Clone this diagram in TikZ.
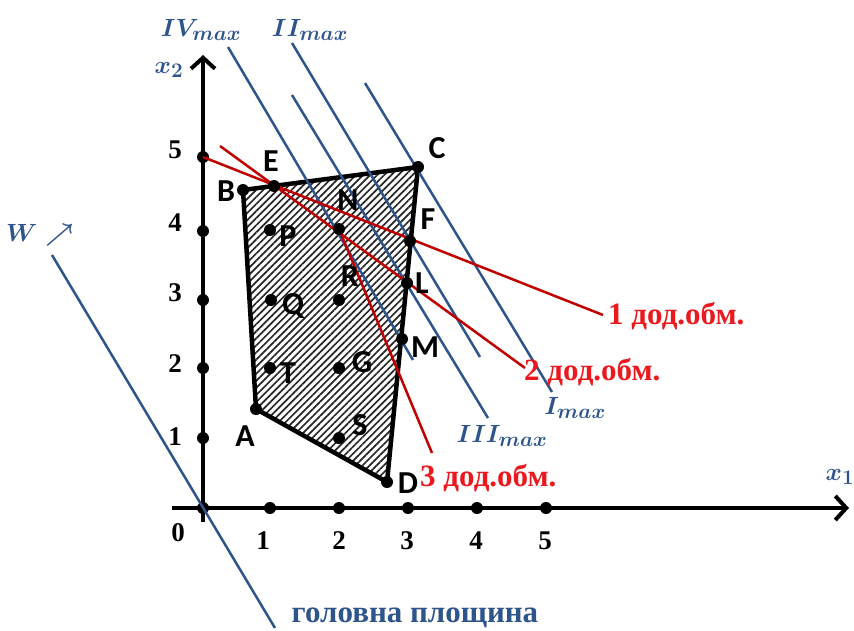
\documentclass[tikz,border=0pt]{standalone}
\usepackage{fontspec}
\setmainfont{Liberation Serif}
\newfontfamily\ptfont{Carlito}
\usetikzlibrary{arrows.meta,patterns.meta}

\definecolor{planeblue}{RGB}{46,84,140}
\definecolor{cutred}{RGB}{192,0,0}
\definecolor{cuttext}{RGB}{235,25,30}

\begin{document}
\begin{tikzpicture}[
  x=1pt, y=-1pt,
  axis/.style={line width=4pt, -{Straight Barb[length=11pt,width=24pt]}},
  dot/.style={circle, fill=black, inner sep=0pt, minimum size=12pt},
  ptlabel/.style={font=\ptfont\bfseries\fontsize{32}{32}\selectfont, inner sep=0pt},
  ticklabel/.style={font=\bfseries\fontsize{27}{27}\selectfont, inner sep=0pt},
  level/.style={draw=planeblue, line width=2.5pt},
  levellabel/.style={text=planeblue, font=\fontsize{28}{28}\selectfont\boldmath, inner sep=0pt},
  cut/.style={draw=cutred, line width=2.5pt},
  cutlabel/.style={text=cuttext, font=\bfseries\fontsize{31}{31}\selectfont, inner sep=0pt, anchor=west},
  region/.style={line width=4.5pt, line join=round, pattern={Lines[angle=45,distance=5pt,line width=1.7pt]}, pattern color=black!85}
]
\useasboundingbox (0,0) rectangle (854,630);

% corners of the feasible region
\coordinate (A) at (256,409);
\coordinate (B) at (243,190);
\coordinate (C) at (418,167);
\coordinate (D) at (387,482);
\draw[region] (A) -- (B) -- (C) -- (D) -- cycle;

% axes
\coordinate (xstart) at (172,508);
\coordinate (xend)   at (849,508);
\coordinate (ystart) at (203,522);
\coordinate (yend)   at (203,55);
\draw[axis] (xstart) -- (xend);
\draw[axis] (ystart) -- (yend);
\node[levellabel] (x1lab) at (840,477) {$x_1$};
\node[levellabel] (x2lab) at (169,70)  {$x_2$};

% ticks
\node[dot] (O) at (203,508) {};
\node[ticklabel] (o) at (178,533) {0};
\foreach \i/\px/\lx in {1/270/263, 2/339/339, 3/408/407, 4/477/476, 5/546/545} {
  \node[dot] (x\i) at (\px,508) {};
  \node[ticklabel] (xl\i) at (\lx,541) {\i};
}
\foreach \i/\py/\ly in {1/438/437, 2/368/364, 3/300/293, 4/231/223, 5/157/150} {
  \node[dot] (y\i) at (203,\py) {};
  \node[ticklabel] (yl\i) at (175,\ly) {\i};
}

% level lines of the objective
\coordinate (w1)   at (52,255);   \coordinate (w2)   at (275,628);
\coordinate (iv1)  at (228,47);   \coordinate (iv2)  at (413,360);
\coordinate (iii1) at (292,95);   \coordinate (iii2) at (488,418);
\coordinate (ii1)  at (292,43);   \coordinate (ii2)  at (480,357);
\coordinate (i1)   at (365,83);   \coordinate (i2)   at (552,392);
\draw[level] (iv1) -- (iv2);
\draw[level] (iii1) -- (iii2);
\draw[level] (ii1) -- (ii2);
\draw[level] (i1) -- (i2);

% additional constraints
\coordinate (N)  at (339,229);
\coordinate (c1) at (603,315);
\coordinate (c2s) at (220,146);   \coordinate (c2) at (525,368);
\coordinate (c3) at (432,453);
\draw[cut] (y5.center) -- (c1);
\draw[cut] (c2s) -- (c2);
\draw[cut] (N) -- (c3);

% points
\foreach \n/\p in {A/{256,409}, B/{243,190}, C/{418,167}, D/{387,482}, E/{274,186},
                   F/{410,241}, L/{407,283}, M/{402,339}, N/{339,229}, P/{270,230},
                   Q/{271,300}, R/{339,300}, T/{270,368}, G/{339,368}, S/{339,438}}
  \node[dot] (d\n) at (\p) {};

\draw[level] (w1) -- (w2);

\node[ptlabel] (lA) at (245,436) {A};
\node[ptlabel] (lB) at (226,191) {B};
\node[ptlabel] (lC) at (437,148) {C};
\node[ptlabel] (lD) at (408,483) {D};
\node[ptlabel] (lE) at (271,161) {E};
\node[ptlabel] (lF) at (428,219) {F};
\node[ptlabel] (lL) at (422,283) {L};
\node[ptlabel] (lM) at (425,347) {M};
\node[ptlabel] (lN) at (348,200) {N};
\node[ptlabel] (lP) at (288,236) {P};
\node[ptlabel] (lQ) at (293,306) {Q};
\node[ptlabel] (lR) at (350,276) {R};
\node[ptlabel] (lT) at (288,373) {T};
\node[ptlabel] (lG) at (362,362) {G};
\node[ptlabel] (lS) at (360,425) {S};

% labels of lines
\node[levellabel] (livmax)  at (201,30)  {$IV_{max}$};
\node[levellabel] (liimax)  at (310,30)  {$II_{max}$};
\node[levellabel] (liiimax) at (502,436) {$III_{max}$};
\node[levellabel] (limax)   at (575,408) {$I_{max}$};
\node[levellabel] (lw)      at (40,235)  {$W\nearrow$};
\node[text=planeblue, font=\bfseries\fontsize{31}{31}\selectfont, inner sep=0pt] (main) at (415,618) {головна площина};

\node[cutlabel] (l1) at (608,316) {1 дод.обм.};
\node[cutlabel] (l2) at (524,372) {2 дод.обм.};
\node[cutlabel] (l3) at (420,478) {3 дод.обм.};

\end{tikzpicture}
\end{document}
